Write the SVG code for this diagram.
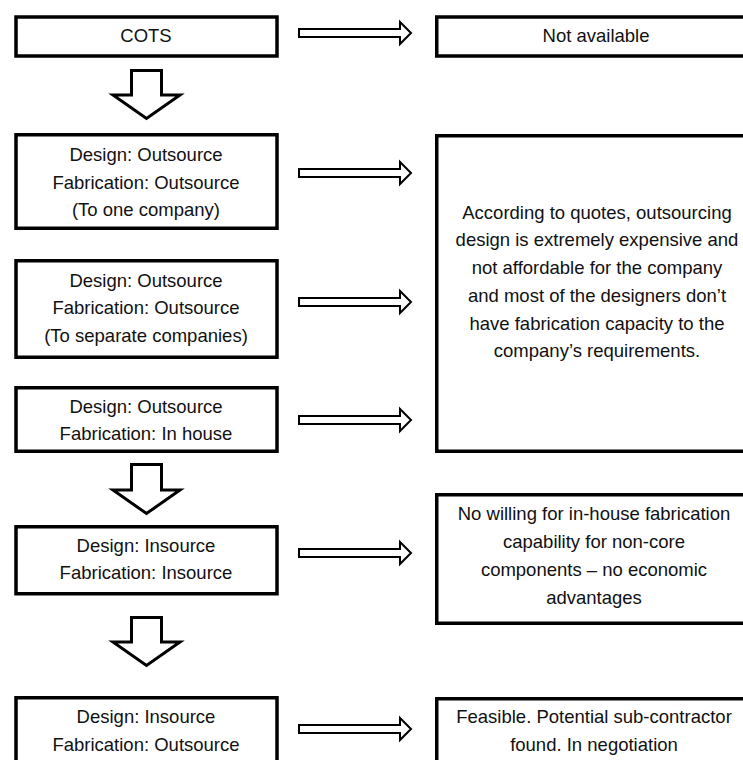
<svg xmlns="http://www.w3.org/2000/svg" width="743" height="760" viewBox="0 0 743 760">
<style>
.box{fill:#fff;stroke:#000;stroke-width:3.5}
.t{font-family:"Liberation Sans",Arial,sans-serif;font-size:18.5px;fill:#111;text-anchor:middle}
.ra{fill:#fff;stroke:#000;stroke-width:2;stroke-linejoin:miter}
.da{fill:#fff;stroke:#000;stroke-width:3;stroke-linejoin:miter}
</style>
<rect width="743" height="760" fill="#fff"/>
<g id="connectors">
<path class="ra" d="M299,29 H400 V22 L411,33 L400,44 V37 H299 Z"/>
<path class="ra" d="M299,169 H400 V162 L411,173 L400,184 V177 H299 Z"/>
<path class="ra" d="M299,298 H400 V291 L411,302 L400,313 V306 H299 Z"/>
<path class="ra" d="M299,416 H400 V409 L411,420 L400,431 V424 H299 Z"/>
<path class="ra" d="M299,549 H400 V542 L411,553 L400,564 V557 H299 Z"/>
<path class="ra" d="M299,725 H400 V718 L411,729 L400,740 V733 H299 Z"/>
<path class="da" d="M131.5,70.5 H161.5 V95 H180 L146.5,118.5 L113,95 H131.5 Z"/>
<path class="da" d="M131.5,464.5 H161.5 V490 H180 L146.5,513.5 L113,490 H131.5 Z"/>
<path class="da" d="M131.5,617.5 H161.5 V642 H180 L146.5,665.5 L113,642 H131.5 Z"/>
</g>
<g id="cots">
<rect class="box" x="16" y="17" width="261" height="39"/>
<text class="t" x="146" y="42">COTS</text>
</g>
<g id="not-available">
<rect class="box" x="436.75" y="17" width="330" height="39"/>
<text class="t" x="596" y="42">Not available</text>
</g>
<g id="opt-one-company">
<rect class="box" x="16" y="134.75" width="261" height="93.5"/>
<text class="t" x="146" y="161">Design: Outsource</text>
<text class="t" x="146" y="188.5">Fabrication: Outsource</text>
<text class="t" x="146" y="216">(To one company)</text>
</g>
<g id="opt-separate">
<rect class="box" x="16" y="260.75" width="261" height="96.5"/>
<text class="t" x="146" y="286.5">Design: Outsource</text>
<text class="t" x="146" y="314">Fabrication: Outsource</text>
<text class="t" x="146" y="341.5">(To separate companies)</text>
</g>
<g id="opt-inhouse">
<rect class="box" x="16" y="387.75" width="261" height="63.5"/>
<text class="t" x="146" y="412.5">Design: Outsource</text>
<text class="t" x="146" y="440">Fabrication: In house</text>
</g>
<g id="outsourcing-reason">
<rect class="box" x="436.75" y="135.75" width="330" height="315.5"/>
<text class="t" x="597" y="218.5">According to quotes, outsourcing</text>
<text class="t" x="597" y="246">design is extremely expensive and</text>
<text class="t" x="597" y="274">not affordable for the company</text>
<text class="t" x="597" y="301.5">and most of the designers don’t</text>
<text class="t" x="597" y="329.5">have fabrication capacity to the</text>
<text class="t" x="597" y="357">company’s requirements.</text>
</g>
<g id="opt-insource">
<rect class="box" x="16" y="526.75" width="261" height="67"/>
<text class="t" x="146" y="551.5">Design: Insource</text>
<text class="t" x="146" y="579">Fabrication: Insource</text>
</g>
<g id="insource-reason">
<rect class="box" x="436.75" y="494.75" width="330" height="128.5"/>
<text class="t" x="594" y="520">No willing for in-house fabrication</text>
<text class="t" x="594" y="548">capability for non-core</text>
<text class="t" x="594" y="576">components – no economic</text>
<text class="t" x="594" y="604">advantages</text>
</g>
<g id="opt-fab-outsource">
<rect class="box" x="16" y="697.75" width="261" height="90"/>
<text class="t" x="146" y="723">Design: Insource</text>
<text class="t" x="146" y="750.5">Fabrication: Outsource</text>
</g>
<g id="feasible">
<rect class="box" x="436.75" y="698.75" width="330" height="90"/>
<text class="t" x="594" y="723">Feasible. Potential sub-contractor</text>
<text class="t" x="594" y="750.5">found. In negotiation</text>
</g>
</svg>
